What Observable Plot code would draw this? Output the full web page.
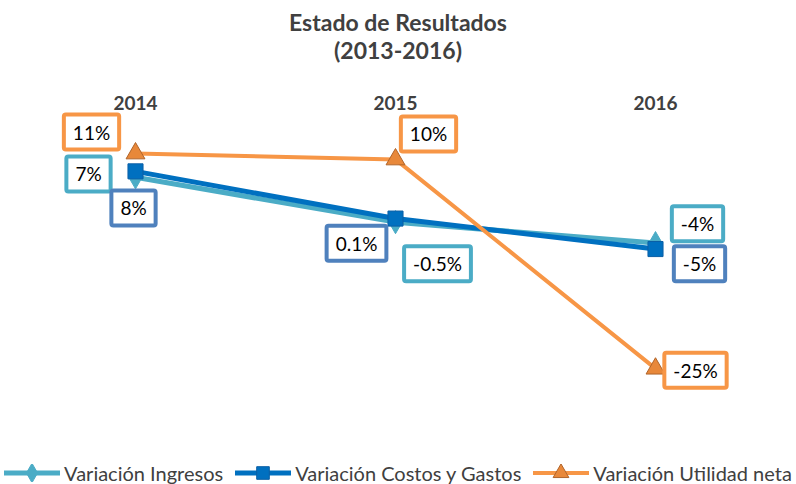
<!DOCTYPE html>
<html><head><meta charset="utf-8">
<script src="https://cdn.jsdelivr.net/npm/d3@7"></script>
<script src="https://cdn.jsdelivr.net/npm/@observablehq/plot@0.6"></script>
<style>
body{margin:0;background:#fff;font-family:Lato,"Open Sans",sans-serif;width:796px;height:484px;overflow:hidden}
#title{height:80px;text-align:center;font-weight:bold;font-size:23px;color:#404040;line-height:28px;padding-top:8px;box-sizing:border-box}
#chart{height:375px}
#legend{height:29px;display:flex;justify-content:center;align-items:center;gap:12px;font-size:20px;color:#404040;padding-top:6px;box-sizing:border-box}
#legend .item{display:flex;align-items:center;gap:4px}
</style></head><body>
<div id="title">Estado de Resultados<br>(2013-2016)</div>
<div id="chart"></div>
<div id="legend"></div>
<script>
// ---- data ----
const years = ["2014", "2015", "2016"];
const ingresos = [7, -0.5, -4];
const costos = [8, 0.1, -5];
const utilidad = [11, 10, -25];
const seriesNames = ["Variación Ingresos", "Variación Costos y Gastos", "Variación Utilidad neta"];

// ---- styles / layout ----
const styles = [
  {line: "#4BACC6", fill: "#4BACC6", stroke: "#4BACC6", box: "#4BACC6", symbol: "diamond", r: 7, sw: 5},
  {line: "#0070C0", fill: "#0070C0", stroke: "#0b5fa5", box: "#4F81BD", symbol: "square", r: 8.5, sw: 5},
  {line: "#F79646", fill: "#E8883A", stroke: "#B0642A", box: "#F79646", symbol: "triangle", r: 7, sw: 4}
];
// label offsets (px) per series per year
const offsets = [
  [[-47, -2], [42, 43], [42, -18]],
  [[-2, 38], [-39, 26], [44, 16]],
  [[-44, -20], [33, -24], [40, 3]]
];

const allValues = [ingresos, costos, utilidad];
const data = allValues.map((vals, s) => years.map((yr, i) => ({series: seriesNames[s], year: yr, value: vals[i]})));
const fmt = v => (Number.isInteger(v) ? v : v.toFixed(1)) + "%";

const marks = [];
data.forEach((rows, s) => {
  const st = styles[s];
  marks.push(Plot.line(rows, {x: "year", y: "value", stroke: st.line, strokeWidth: st.sw}));
});
data.forEach((rows, s) => {
  const st = styles[s];
  marks.push(Plot.dot(rows, {x: "year", y: "value", symbol: st.symbol, r: st.r, fill: st.fill, stroke: st.stroke, strokeWidth: 1}));
});
const boxColors = [];
data.forEach((rows, s) => {
  rows.forEach((row, i) => {
    const [dx, dy] = offsets[s][i];
    boxColors.push(styles[s].box);
    marks.push(Plot.text([row], {x: "year", y: "value", text: d => fmt(d.value), dx, dy,
      fill: "#000", fontSize: 19, fontFamily: "Lato, 'Open Sans', sans-serif"}));
  });
});
marks.push(Plot.axisX({anchor: "top", tickSize: 0, tickPadding: 20, fontSize: 19, fontWeight: "bold",
  fill: "#404040", label: null, fontFamily: "Lato, 'Open Sans', sans-serif"}));

const chart = Plot.plot({
  width: 796, height: 375,
  marginLeft: 5, marginRight: 11, marginTop: 49, marginBottom: 57,
  x: {type: "point", domain: years, padding: 0.5},
  y: {domain: [-30, 15], axis: null},
  style: {background: "transparent", overflow: "visible"},
  marks
});
document.getElementById("chart").appendChild(chart);

// draw boxes behind labels (text marks appear in creation order)
const groups = chart.querySelectorAll('g[aria-label="text"]');
groups.forEach((g, k) => {
  g.querySelectorAll("text").forEach(t => {
    const bb = t.getBBox();
    const tr = t.getAttribute("transform");
    const rect = document.createElementNS("http://www.w3.org/2000/svg", "rect");
    const px = 9, py = 6;
    rect.setAttribute("x", bb.x - px);
    rect.setAttribute("y", bb.y - py);
    rect.setAttribute("width", bb.width + 2 * px);
    rect.setAttribute("height", bb.height + 2 * py);
    rect.setAttribute("rx", 2);
    rect.setAttribute("fill", "#fff");
    rect.setAttribute("stroke", boxColors[k]);
    rect.setAttribute("stroke-width", 4);
    if (tr) rect.setAttribute("transform", tr);
    t.parentNode.insertBefore(rect, t);
  });
});

// legend
const legend = d3.select("#legend");
seriesNames.forEach((name, s) => {
  const st = styles[s];
  const item = legend.append("div").attr("class", "item");
  const svg = item.append("svg").attr("width", 56).attr("height", 18);
  svg.append("line").attr("x1", 0).attr("x2", 56).attr("y1", 9).attr("y2", 9)
    .attr("stroke", st.line).attr("stroke-width", st.sw);
  const sym = {diamond: d3.symbolDiamond, square: d3.symbolSquare, triangle: d3.symbolTriangle}[st.symbol];
  svg.append("path").attr("d", d3.symbol(sym, Math.PI * st.r * st.r * 0.7)())
    .attr("transform", "translate(28,9)").attr("fill", st.fill).attr("stroke", st.stroke);
  item.append("span").text(name);
});
</script>
</body></html>
